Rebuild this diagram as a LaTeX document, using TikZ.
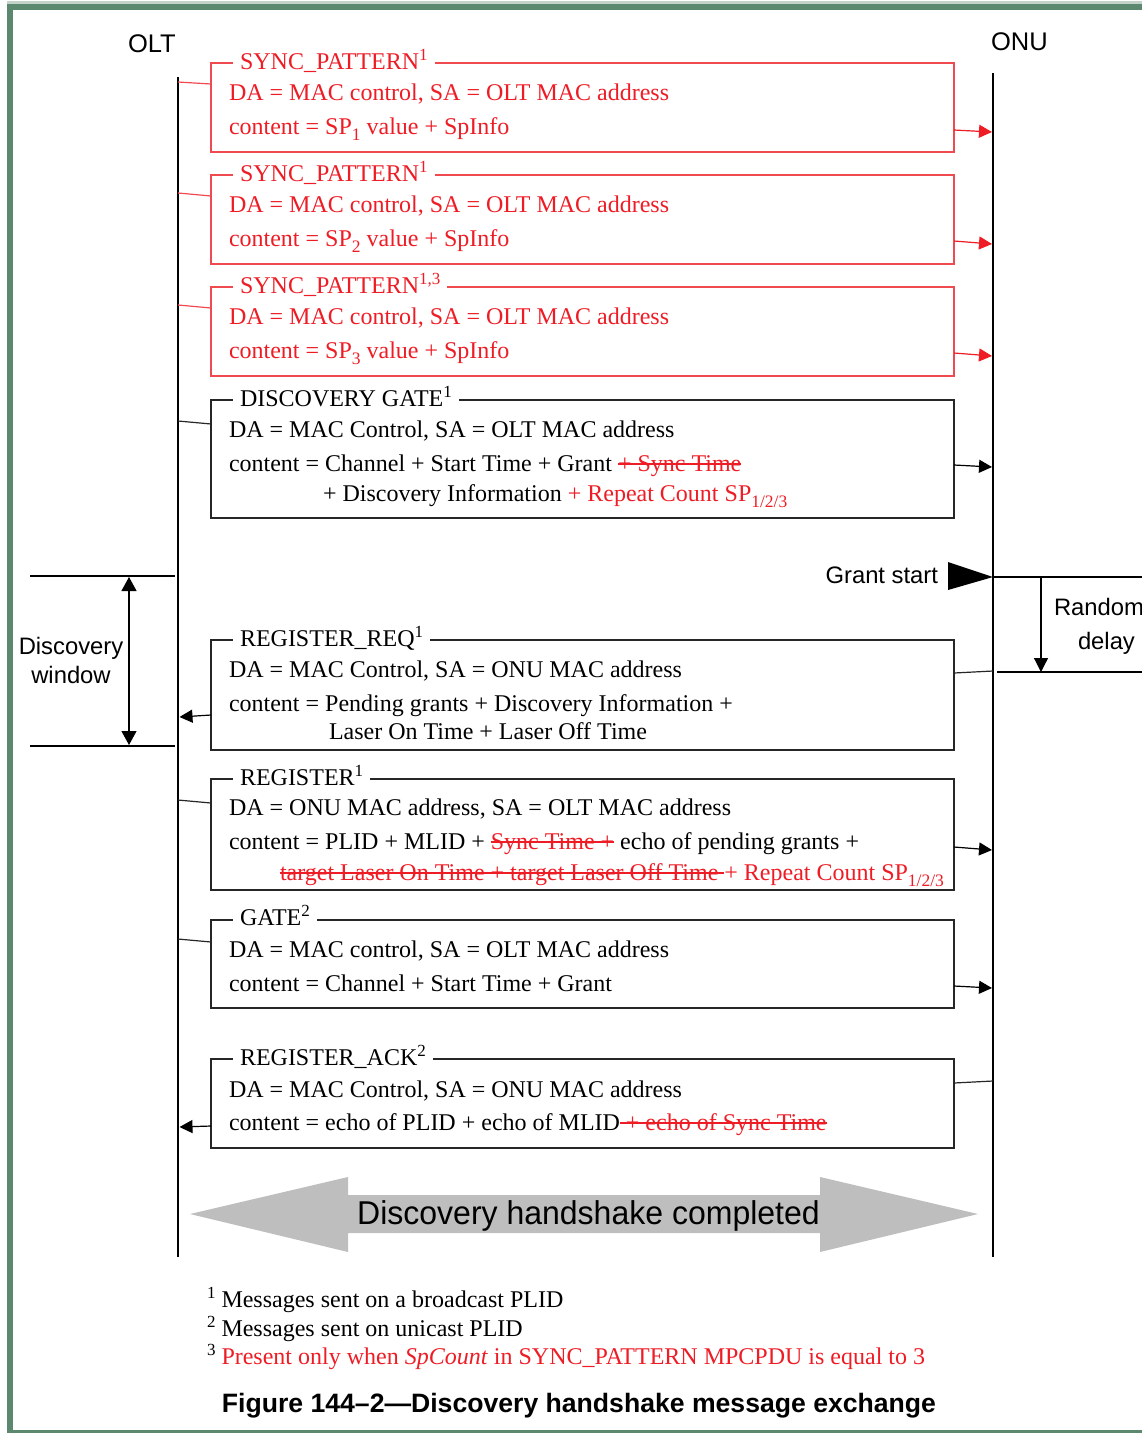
\documentclass[tikz,border=0pt]{standalone}
\usepackage{fontspec}
\setmainfont{Liberation Serif}
\newfontfamily\arialf{Liberation Sans}
\usetikzlibrary{arrows.meta,calc}

\definecolor{specred}{HTML}{EE1C25}
\definecolor{boxred}{HTML}{EF4A50}
\definecolor{boxblack}{HTML}{262626}
\definecolor{framecol}{HTML}{5C8870}
\definecolor{framelight}{HTML}{C4D2CA}
\definecolor{bandgray}{HTML}{BEBEBE}

\newcommand{\serifsz}{\fontsize{24}{28}\selectfont}
\newcommand{\sanssz}{\arialf\fontsize{23.8}{27}\selectfont}
% struck-out text: a rule through the middle of the lowercase letters
\newlength{\strkwd}
\newcommand{\strk}[1]{\settowidth{\strkwd}{#1}\rlap{\rule[0.27em]{\strkwd}{0.06em}}#1}
\newcommand{\redtx}[1]{\textcolor{specred}{#1}}
\newcommand{\redso}[1]{\textcolor{specred}{\strk{#1}}}
% index and note marks
\newcommand{\lowidx}[1]{\raisebox{-6pt}{\fontsize{17.5}{18}\selectfont #1}}
\newcommand{\highidx}[1]{\raisebox{9pt}{\fontsize{17}{18}\selectfont #1}}

\begin{document}
\begin{tikzpicture}[x=1pt,y=-1pt,
  every node/.style={inner sep=0pt, outer sep=0pt},
  msgbox/.style={draw=#1, line width=1.4pt, anchor=north west,
                 minimum width=743pt, fill=none},
  ttl/.style={anchor=base west, fill=white, inner xsep=7pt, inner ysep=3pt,
              font=\serifsz},
  txt/.style={anchor=base west, font=\serifsz},
  lbl/.style={anchor=base west, font=\sanssz},
  endlbl/.style={anchor=base west, font=\arialf\fontsize{25.5}{28}\selectfont},
  life/.style={line width=2.6pt, black},
  conn/.style={line width=1.2pt, draw=#1},
  msgarrow/.style={line width=1.2pt, draw=#1, fill=#1,
                   -{Triangle[length=13pt,width=13pt]}},
  dimarrow/.style={line width=1.2pt, black,
                   -{Triangle[length=14pt,width=14pt]}}
]
\useasboundingbox (0,0) rectangle (1142,1433);

% outer frame
\fill[framelight] (7,1) rectangle (1150,4);
\fill[framecol] (7,4) rectangle (1150,9.5);
\fill[framecol] (7,4) rectangle (12.5,1433);
\fill[framecol] (7,1430) rectangle (1150,1433);

% lifelines
\coordinate (oltTop) at (178,77);
\coordinate (oltBot) at (178,1257);
\coordinate (onuTop) at (993,73);
\coordinate (onuBot) at (993,1257);
\draw[life] (oltTop) -- (oltBot);
\draw[life] (onuTop) -- (onuBot);
\node[endlbl] (oltLabel) at (128,52) {OLT};
\node[endlbl] (onuLabel) at (991,50) {ONU};

% ---- SYNC_PATTERN 1
\node[msgbox=boxred, minimum height=89pt] (b1) at (211,63) {};
\node[ttl, text=specred] (t1) at (233,69) {SYNC\_PATTERN\highidx{1}};
\node[txt, text=specred] (b1a) at (229,100) {DA = MAC control, SA = OLT MAC address};
\node[txt, text=specred] (b1b) at (229,134) {content = SP\lowidx{1} value + SpInfo};
\coordinate (o1) at (178,82);
\coordinate (u1) at (992,132);
\draw[conn=boxred] (o1) -- ($(b1.north west)+(0,21)$);
\draw[msgarrow=specred] ($(b1.north east)+(0,67)$) -- (u1);

% ---- SYNC_PATTERN 2
\node[msgbox=boxred, minimum height=89pt] (b2) at (211,175) {};
\node[ttl, text=specred] (t2) at (233,181) {SYNC\_PATTERN\highidx{1}};
\node[txt, text=specred] (b2a) at (229,212) {DA = MAC control, SA = OLT MAC address};
\node[txt, text=specred] (b2b) at (229,246) {content = SP\lowidx{2} value + SpInfo};
\coordinate (o2) at (178,193);
\coordinate (u2) at (992,244);
\draw[conn=boxred] (o2) -- ($(b2.north west)+(0,21)$);
\draw[msgarrow=specred] ($(b2.north east)+(0,66)$) -- (u2);

% ---- SYNC_PATTERN 3
\node[msgbox=boxred, minimum height=89pt] (b3) at (211,287) {};
\node[ttl, text=specred] (t3) at (233,293) {SYNC\_PATTERN\highidx{1,3}};
\node[txt, text=specred] (b3a) at (229,324) {DA = MAC control, SA = OLT MAC address};
\node[txt, text=specred] (b3b) at (229,358) {content = SP\lowidx{3} value + SpInfo};
\coordinate (o3) at (178,305);
\coordinate (u3) at (992,356);
\draw[conn=boxred] (o3) -- ($(b3.north west)+(0,21)$);
\draw[msgarrow=specred] ($(b3.north east)+(0,66)$) -- (u3);

% ---- DISCOVERY GATE
\node[msgbox=boxblack, minimum height=118pt] (b4) at (211,400) {};
\node[ttl] (t4) at (233,406) {DISCOVERY GATE\highidx{1}};
\node[txt] (b4a) at (229,437) {DA = MAC Control, SA = OLT MAC address};
\node[txt] (b4b) at (229,471) {content = Channel + Start Time + Grant \redso{+ Sync Time}};
\node[txt] (b4c) at (323,501) {+ Discovery Information \redtx{+ Repeat Count SP\lowidx{1/2/3}}};
\coordinate (o4) at (178,421);
\coordinate (u4) at (992,467);
\draw[conn=boxblack] (o4) -- ($(b4.north west)+(0,24)$);
\draw[msgarrow=black] ($(b4.north east)+(0,65)$) -- (u4);

% ---- grant start and random delay
\coordinate (gs) at (993,577);
\fill[black] (948,562) -- (gs) -- (948,590) -- cycle;
\node[lbl, anchor=base east] (gsLabel) at (938,583) {Grant start};
\coordinate (rdTop) at (1142,577);
\coordinate (rdEndL) at (997,672);
\coordinate (rdEndR) at (1142,672);
\coordinate (rdA) at (1041,577);
\coordinate (rdB) at (1041,672);
\draw[line width=1.2pt] (gs) -- (rdTop);
\draw[line width=1.2pt] (rdEndL) -- (rdEndR);
\draw[dimarrow] (rdA) -- (rdB);
\node[lbl] (rdLabel1) at (1054,615) {Random};
\node[lbl] (rdLabel2) at (1078,649) {delay};

% ---- discovery window
\coordinate (dwTL) at (30,576);
\coordinate (dwTR) at (175,576);
\coordinate (dwBL) at (30,746);
\coordinate (dwBR) at (175,746);
\draw[line width=1.2pt] (dwTL) -- (dwTR);
\draw[line width=1.2pt] (dwBL) -- (dwBR);
\coordinate (dwA) at (129,577);
\coordinate (dwB) at (129,745);
\draw[line width=1.2pt, black, {Triangle[length=14pt,width=15pt]}-{Triangle[length=14pt,width=15pt]}] (dwA) -- (dwB);
\node[font=\sanssz, anchor=base] (dwLabel1) at (71,654) {Discovery};
\node[font=\sanssz, anchor=base] (dwLabel2) at (71,683) {window};

% ---- REGISTER_REQ
\node[msgbox=boxblack, minimum height=110pt] (b5) at (211,640) {};
\node[ttl] (t5) at (233,646) {REGISTER\_REQ\highidx{1}};
\node[txt] (b5a) at (229,677) {DA = MAC Control, SA = ONU MAC address};
\node[txt] (b5b) at (229,711) {content = Pending grants + Discovery Information +};
\node[txt] (b5c) at (329,739) {Laser On Time + Laser Off Time};
\coordinate (u5) at (993,671);
\coordinate (o5) at (179.5,717);
\draw[conn=boxblack] (u5) -- ($(b5.north east)+(0,33)$);
\draw[msgarrow=black] ($(b5.north west)+(0,75)$) -- (o5);

% ---- REGISTER
\node[msgbox=boxblack, minimum height=111pt] (b6) at (211,779) {};
\node[ttl] (t6) at (233,785) {REGISTER\highidx{1}};
\node[txt] (b6a) at (229,815) {DA = ONU MAC address, SA = OLT MAC address};
\node[txt] (b6b) at (229,849) {content = PLID + MLID + \redso{Sync Time +} echo of pending grants +};
\node[txt, text=specred] (b6c) at (280,880) {\strk{target Laser On Time + target Laser Off Time }+ Repeat Count SP\lowidx{1/2/3}};
\coordinate (o6) at (178,800);
\coordinate (u6) at (992,850);
\draw[conn=boxblack] (o6) -- ($(b6.north west)+(0,24)$);
\draw[msgarrow=black] ($(b6.north east)+(0,68)$) -- (u6);

% ---- GATE
\node[msgbox=boxblack, minimum height=88pt] (b7) at (211,920) {};
\node[ttl] (t7) at (233,925) {GATE\highidx{2}};
\node[txt] (b7a) at (229,957) {DA = MAC control, SA = OLT MAC address};
\node[txt] (b7b) at (229,991) {content = Channel + Start Time + Grant};
\coordinate (o7) at (178,939);
\coordinate (u7) at (992,988);
\draw[conn=boxblack] (o7) -- ($(b7.north west)+(0,22)$);
\draw[msgarrow=black] ($(b7.north east)+(0,66)$) -- (u7);

% ---- REGISTER_ACK
\node[msgbox=boxblack, minimum height=89pt] (b8) at (211,1059) {};
\node[ttl] (t8) at (233,1065) {REGISTER\_ACK\highidx{2}};
\node[txt] (b8a) at (229,1097) {DA = MAC Control, SA = ONU MAC address};
\node[txt] (b8b) at (229,1130) {content = echo of PLID + echo of MLID\redso{ + echo of Sync Time}};
\coordinate (u8) at (993,1081);
\coordinate (o8) at (179.5,1127);
\draw[conn=boxblack] (u8) -- ($(b8.north east)+(0,24)$);
\draw[msgarrow=black] ($(b8.north west)+(0,67)$) -- (o8);

% ---- completion band
\fill[bandgray] (190,1214) -- (348,1177) -- (348,1195) -- (820,1195) -- (820,1177)
  -- (978,1214) -- (820,1252) -- (820,1233) -- (348,1233) -- (348,1252) -- cycle;
\node[font=\arialf\fontsize{33}{36}\selectfont, anchor=base] (done) at (588.5,1224)
  {\scalebox{0.97}[1]{Discovery handshake completed}};

% ---- notes
\node[txt] (n1) at (207,1307) {\highidx{1} Messages sent on a broadcast PLID};
\node[txt] (n2) at (207,1336) {\highidx{2} Messages sent on unicast PLID};
\node[txt] (n3) at (207,1364) {\highidx{3} \redtx{Present only when \textit{SpCount} in SYNC\_PATTERN MPCPDU is equal to 3}};

\node[font=\arialf\bfseries\fontsize{26.6}{30}\selectfont, anchor=base] (caption) at (579,1412)
  {Figure 144–2—Discovery handshake message exchange};
\end{tikzpicture}
\end{document}
